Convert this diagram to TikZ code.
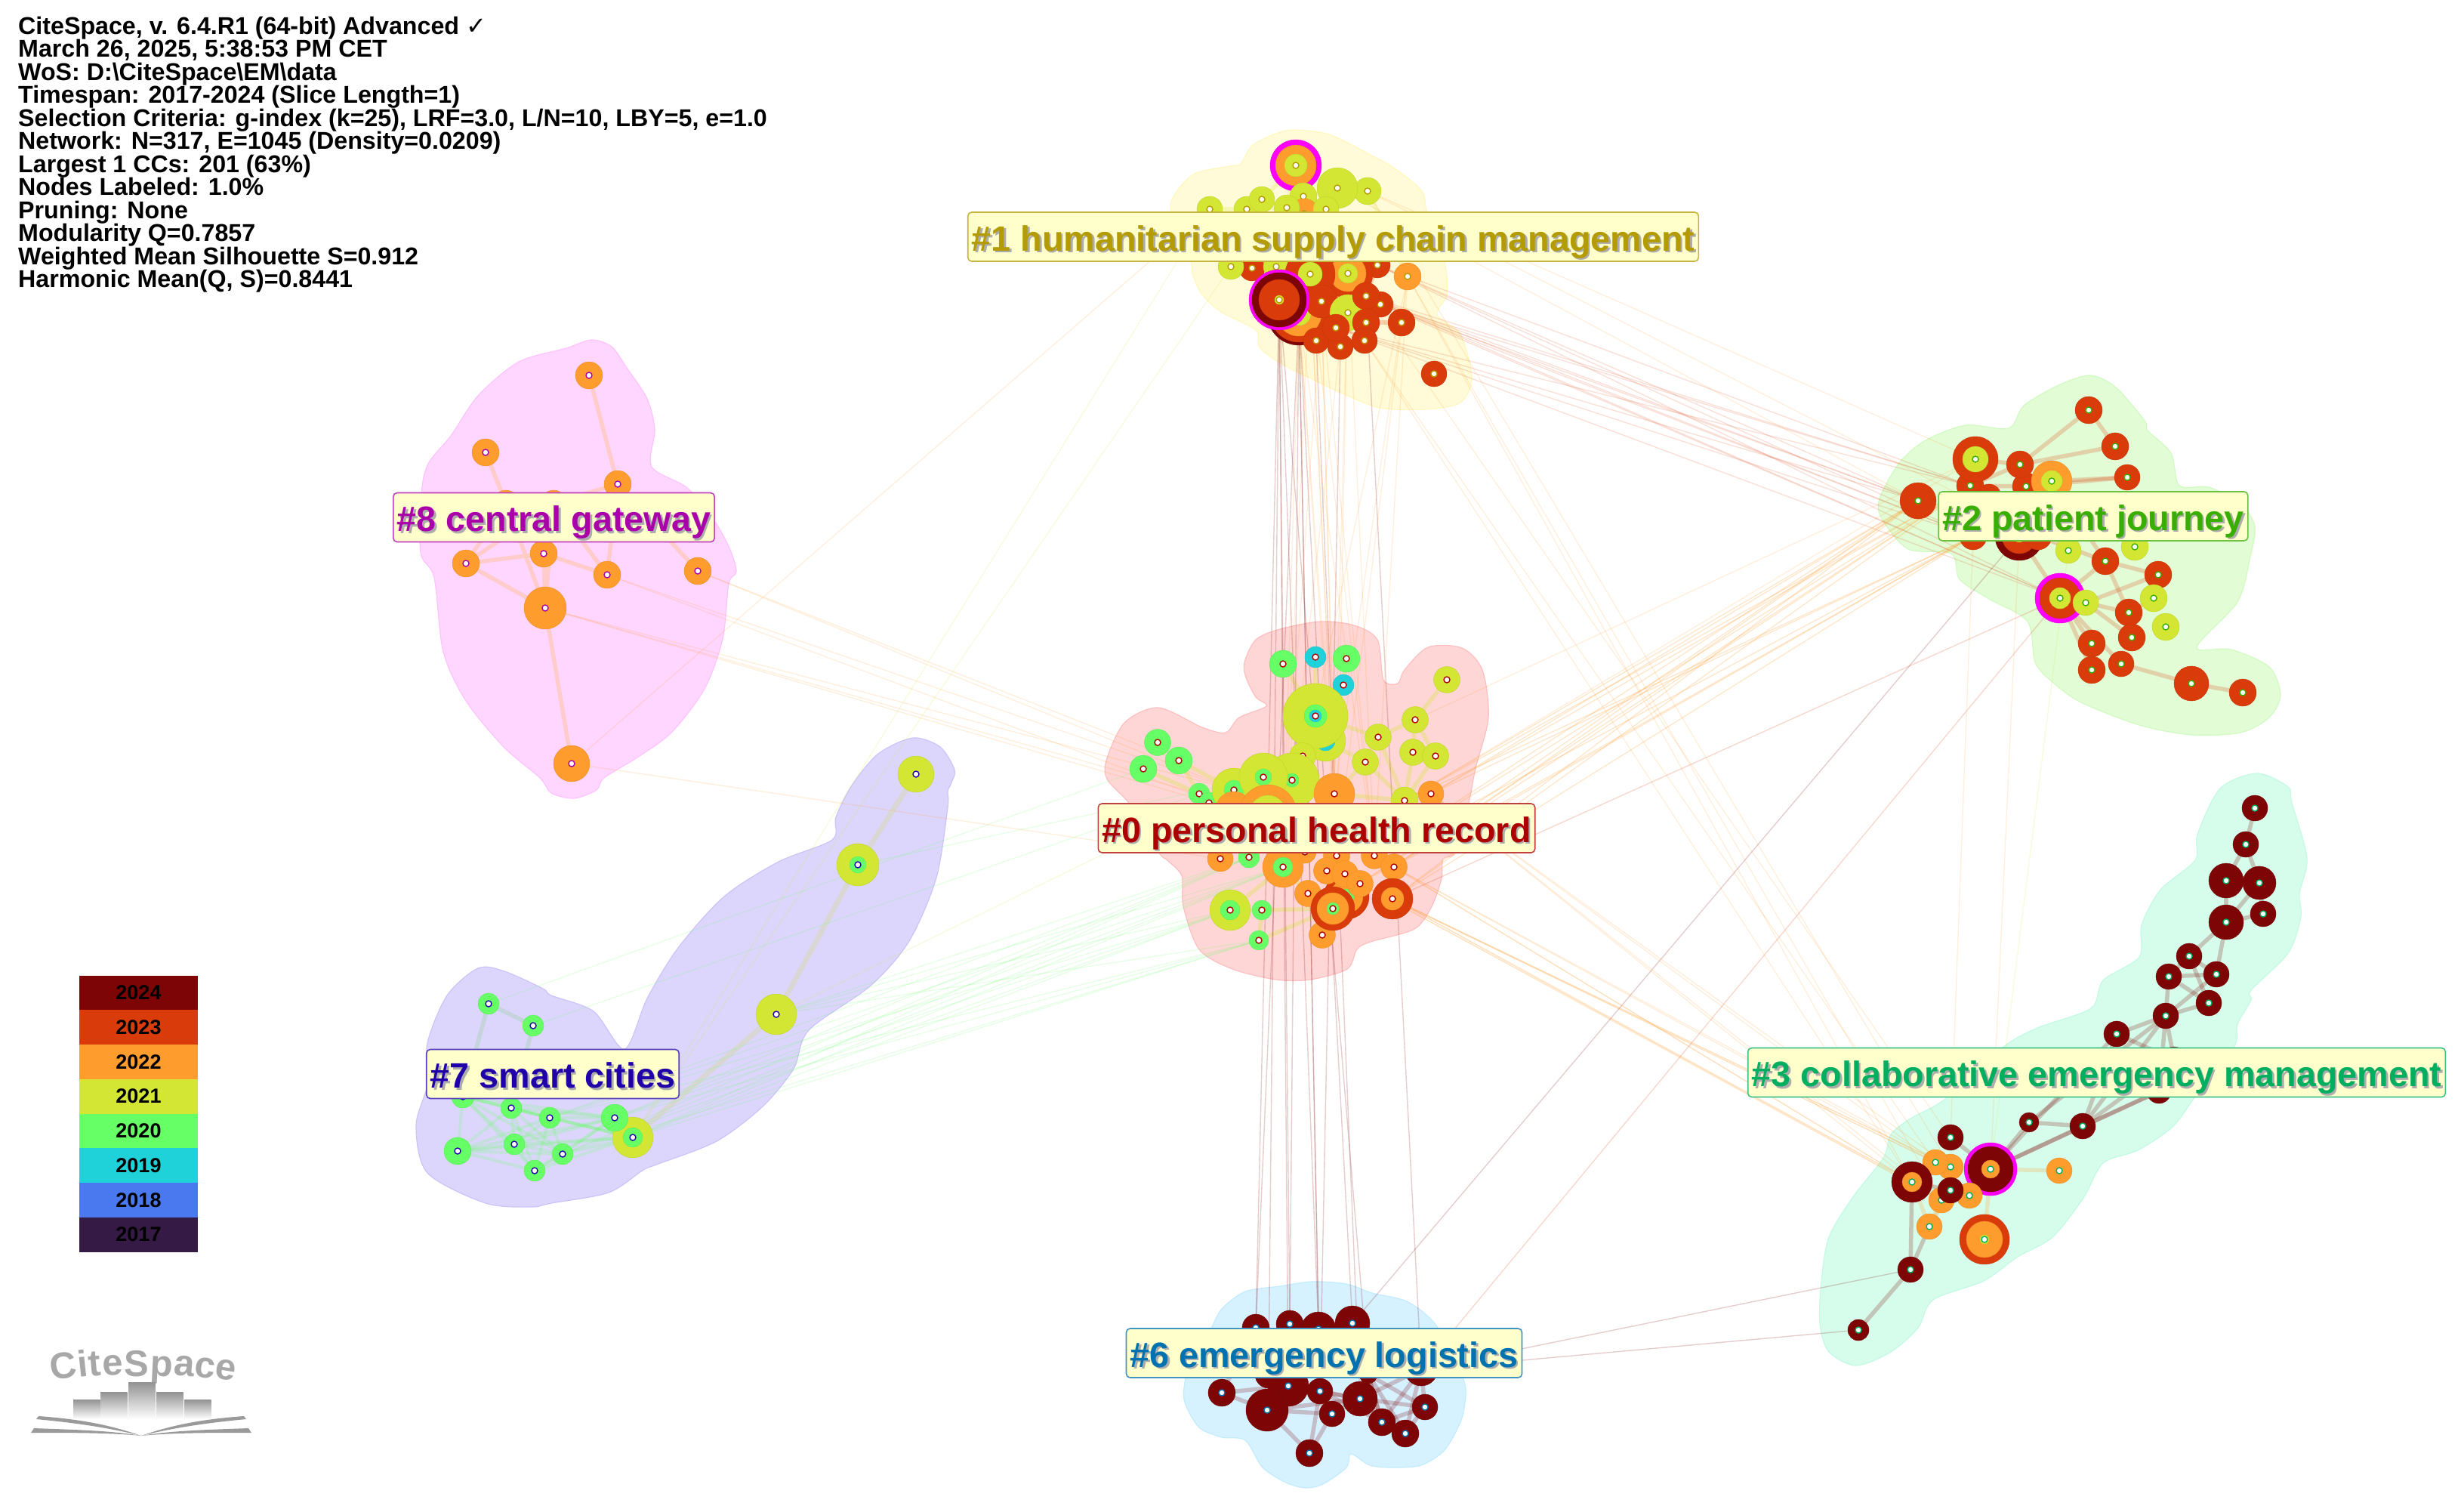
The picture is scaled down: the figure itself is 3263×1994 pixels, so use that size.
\documentclass[tikz,border=0pt]{standalone}
\usepackage{fontspec}
\setmainfont{Liberation Sans}
\newfontfamily\checkfont{DejaVu Sans}
\usetikzlibrary{positioning}
% --- year colours of the rings ---
\definecolor{yr24}{HTML}{7D0505}
\definecolor{yr23}{HTML}{D93C0A}
\definecolor{yr22}{HTML}{FF9C2E}
\definecolor{yr21}{HTML}{D2E633}
\definecolor{yr20}{HTML}{66FF66}
\definecolor{yr19}{HTML}{1FD2D9}
\definecolor{yr18}{HTML}{4A78EE}
\definecolor{yr17}{HTML}{341A44}
\definecolor{halo}{HTML}{FF00FF}
% --- cluster colours ---
\definecolor{clrPR}{HTML}{AD0000}
\definecolor{clrHS}{HTML}{B39B00}
\definecolor{clrPJ}{HTML}{38AE00}
\definecolor{clrCE}{HTML}{00AE60}
\definecolor{clrEL}{HTML}{0072B0}
\definecolor{clrSC}{HTML}{2000A8}
\definecolor{clrCG}{HTML}{AA00AA}
\definecolor{boxfill}{HTML}{FFFFCC}
\definecolor{bookgray}{HTML}{9A9A9A}
\definecolor{cglink}{HTML}{FFCBC2}
\definecolor{sclink}{HTML}{D8D8D2}
\pgfdeclarelayer{hulls}
\pgfdeclarelayer{links}
\pgfsetlayers{hulls,links,main}
\tikzset{
	treering/.style={fill=#1, draw=#1!92!black, line width=.4pt},
	dotnode/.style={circle, inner sep=0pt, minimum size=8pt, fill=white, line width=1.4pt},
	inlink/.style={line width=5.5pt, draw=#1, opacity=.22},
	crosslink/.style={line width=1.4pt, draw=#1, opacity=.16},
	clusterbox/.style={rectangle, rounded corners=5pt, fill=boxfill, line width=1.6pt, inner xsep=5pt, inner ysep=0pt,
		text height=51pt, text depth=14pt, font=\fontsize{46.7}{50}\selectfont\bfseries},
	yearband/.style={rectangle, inner sep=0pt, minimum width=157pt, minimum height=45.75pt, text=black,
		font=\fontsize{27}{27}\selectfont\bfseries},
}
% one citation tree: rings from the outside in, then the white dot
\newcommand{\citenode}[5]{%
	\foreach \rc/\rr in {#4} {\filldraw[treering=\rc] (#2,#3) circle[radius=\rr];}
	\node[dotnode, draw=#5] (#1) at (#2,#3) {};}
\newcommand{\shadowed}[1]{\makebox[0pt][l]{\kern2.5pt\raisebox{-2.5pt}{\textcolor{gray!65}{#1}}}#1}
\newcommand{\clusterlabel}[5]{\node[clusterbox, draw=#4!75, text=#4] (#1) at (#2,#3) {\shadowed{#5}};}
\begin{document}
\begin{tikzpicture}[x=1pt, y=-1pt]
	\useasboundingbox (0,0) rectangle (3263,1994);
	% --- hulls of the clusters ---
	\begin{pgfonlayer}{hulls}
		\filldraw[fill=red!16, draw=red!25, line width=1.2pt] plot[smooth cycle] coordinates {(1648,877) (1663,847) (1695,833) (1748,823) (1793,828) (1824,847) (1832,900) (1851,905) (1860,887) (1891,857) (1936,858) (1963,887) (1971,950) (1954,1017) (1945,1063) (1927,1128) (1911,1137) (1909,1163) (1896,1200) (1873,1230) (1815,1247) (1797,1257) (1784,1283) (1735,1297) (1690,1297) (1632,1283) (1588,1257) (1567,1200) (1565,1160) (1547,1140) (1534,1128) (1498,1067) (1467,1033) (1465,1007) (1489,957) (1534,937) (1592,963) (1623,970) (1641,950) (1677,935) (1663,923) (1650,897)};
		\filldraw[fill={rgb,255:red,255;green,251;blue,217}, draw={rgb,255:red,255;green,247;blue,190}, line width=1.2pt] plot[smooth cycle] coordinates {(1551,283) (1556,257) (1582,230) (1628,220) (1643,217) (1658,193) (1689,177) (1714,172) (1760,178) (1811,203) (1847,223) (1883,253) (1890,283) (1913,347) (1916,390) (1903,417) (1934,443) (1949,500) (1934,533) (1888,542) (1827,540) (1776,520) (1740,503) (1699,483) (1668,460) (1663,437) (1617,413) (1592,390) (1579,363) (1577,347)};
		\filldraw[fill={rgb,255:red,226;green,252;blue,214}, draw={rgb,255:red,210;green,250;blue,195}, line width=1.2pt] plot[smooth cycle] coordinates {(2489,660) (2515,613) (2550,583) (2603,563) (2660,567) (2680,537) (2726,510) (2768,497) (2802,513) (2840,557) (2844,570) (2875,600) (2886,643) (2925,645) (2967,667) (2986,697) (2980,737) (2963,797) (2909,857) (2955,860) (3005,883) (3020,920) (3005,950) (2967,970) (2902,973) (2833,960) (2756,930) (2718,903) (2695,877) (2685,823) (2634,793) (2595,767) (2584,733) (2527,727) (2492,687)};
		\filldraw[fill={rgb,255:red,214;green,253;blue,235}, draw={rgb,255:red,195;green,250;blue,228}, line width=1.2pt] plot[smooth cycle] coordinates {(2989,1024) (3030,1042) (3035,1063) (3055,1136) (3045,1183) (3047,1214) (3030,1262) (2981,1311) (2981,1324) (2963,1356) (2958,1387) (2907,1452) (2877,1492) (2831,1523) (2785,1540) (2759,1586) (2718,1638) (2672,1664) (2627,1696) (2560,1721) (2540,1758) (2504,1790) (2458,1808) (2422,1790) (2410,1753) (2412,1696) (2422,1638) (2453,1586) (2494,1533) (2504,1502) (2530,1481) (2576,1455) (2652,1387) (2698,1361) (2769,1335) (2785,1298) (2833,1267) (2836,1225) (2861,1178) (2907,1139) (2910,1105) (2940,1044)};
		\filldraw[fill={rgb,255:red,214;green,241;blue,255}, draw={rgb,255:red,195;green,236;blue,255}, line width=1.2pt] plot[smooth cycle] coordinates {(1603,1760) (1618,1733) (1649,1710) (1695,1703) (1737,1697) (1783,1700) (1817,1712) (1863,1723) (1898,1750) (1925,1793) (1940,1833) (1940,1857) (1934,1883) (1913,1920) (1882,1940) (1844,1943) (1814,1940) (1789,1925) (1783,1943) (1752,1965) (1729,1970) (1703,1963) (1672,1943) (1649,1907) (1618,1903) (1588,1890) (1569,1857) (1569,1830) (1580,1793)};
		\filldraw[fill={rgb,255:red,221;green,214;blue,252}, draw={rgb,255:red,205;green,195;blue,250}, line width=1.2pt] plot[smooth cycle] coordinates {(1102,1112) (1107,1082) (1128,1040) (1163,998) (1209,977) (1245,989) (1264,1019) (1260,1036) (1255,1048) (1255,1069) (1240,1162) (1204,1246) (1153,1305) (1071,1364) (1051,1415) (1010,1465) (949,1511) (872,1541) (852,1549) (806,1579) (730,1593) (704,1598) (643,1593) (566,1553) (551,1490) (566,1436) (566,1381) (592,1318) (633,1282) (668,1286) (719,1309) (730,1318) (786,1339) (827,1389) (857,1322) (898,1255) (959,1187) (1031,1141)};
		\filldraw[fill={rgb,255:red,255;green,214;blue,255}, draw={rgb,255:red,255;green,195;blue,255}, line width=1.2pt] plot[smooth cycle] coordinates {(558,654) (567,614) (597,577) (633,524) (687,479) (750,461) (783,450) (810,459) (830,487) (857,528) (867,569) (863,618) (910,646) (947,691) (967,728) (975,757) (965,773) (957,846) (933,912) (890,969) (847,1001) (800,1030) (790,1046) (760,1057) (730,1050) (715,1030) (667,989) (617,928) (587,863) (575,765) (557,732)};
	\end{pgfonlayer}
	% --- #8 central gateway ---
	\foreach \px/\py/\rad [count=\i] in {780/497/18, 643/599/18, 818/641/18, 670/666/17, 733/666/17, 617/746/18, 720/733/18, 804/761/18, 924/756/18, 722/805/28, 757/1011/24}
		{\citenode{cg\i}{\px}{\py}{yr22/\rad}{clrCG}}
	% --- #7 smart cities ---
	\foreach \px/\py/\rad [count=\i from 4] in {647/1329/14, 706/1358/14, 613/1452/15, 677/1467/14, 728/1480/14}
		{\citenode{sc\i}{\px}{\py}{yr20/\rad}{clrSC}}
	\citenode{sc1}{1213}{1025}{yr21/24}{clrSC}
	\citenode{sc2}{1136}{1145}{yr21/28,yr20/11}{clrSC}
	\citenode{sc3}{1028}{1343}{yr21/27}{clrSC}
	\citenode{sc10}{838}{1506}{yr21/27,yr20/13}{clrSC}
	\citenode{sc9}{814}{1480}{yr20/18}{clrSC}
	\citenode{sc11}{606}{1524}{yr20/18}{clrSC}
	\citenode{sc12}{681}{1515}{yr20/14}{clrSC}
	\citenode{sc13}{745}{1528}{yr20/14}{clrSC}
	\citenode{sc14}{708}{1550}{yr20/14}{clrSC}
	% --- #6 emergency logistics ---
	\foreach \px/\py/\rad [count=\i] in {1791/1752/23, 1746/1760/23, 1708/1753/18, 1663/1758/18, 1680/1820/18, 1812/1820/12, 1882/1813/22, 1618/1844/18, 1706/1835/27, 1748/1842/17, 1678/1867/28, 1764/1872/17, 1801/1852/23, 1830/1883/18, 1861/1898/18, 1887/1863/17, 1734/1924/18}
		{\citenode{el\i}{\px}{\py}{yr24/\rad}{clrEL}}
	% --- #3 collaborative emergency management ---
	\foreach \px/\py/\rad [count=\i] in {2986/1070/17, 2974/1118/17, 2948/1166/23, 2992/1169/22, 2997/1210/17, 2948/1221/23, 2899/1266/17, 2872/1293/17, 2935/1290/17, 2925/1328/17, 2868/1345/17, 2803/1369/17, 2879/1403/17, 2859/1445/16, 2758/1491/17, 2687/1486/13, 2583/1506/17}
		{\citenode{ce\i}{\px}{\py}{yr24/\rad}{clrCE}}
	\citenode{ce18}{2636}{1548}{halo/35,yr24/30,yr22/12}{clrCE}
	\citenode{ce19}{2727}{1550}{yr22/17}{clrCE}
	\citenode{ce21}{2583}{1545}{yr22/17}{clrCE}
	\citenode{ce22}{2563}{1539}{yr22/17}{clrCE}
	\citenode{ce20}{2532}{1565}{yr24/27,yr22/13}{clrCE}
	\citenode{ce24}{2571}{1589}{yr22/17}{clrCE}
	\citenode{ce25}{2608}{1583}{yr22/17}{clrCE}
	\citenode{ce23}{2583}{1576}{yr24/17}{clrCE}
	\citenode{ce26}{2555}{1624}{yr22/17}{clrCE}
	\citenode{ce27}{2628}{1641}{yr23/33,yr22/24,yr21/6}{clrCE}
	\citenode{ce28}{2530}{1681}{yr24/17}{clrCE}
	\citenode{ce29}{2461}{1761}{yr24/14}{clrCE}
	% --- #2 patient journey ---
	\foreach \px/\py/\rad [count=\i] in {2766/543/18, 2801/591/18, 2817/632/17, 2540/663/24, 2609/643/18, 2634/657/16, 2613/710/18, 2683/644/18}
		{\citenode{pj\i}{\px}{\py}{yr23/\rad}{clrPJ}}
	\citenode{pj9}{2616}{608}{yr23/30,yr21/17}{clrPJ}
	\citenode{pj10}{2675}{615}{yr23/18}{clrPJ}
	\citenode{pj11}{2717}{637}{yr22/27,yr21/14}{clrPJ}
	\citenode{pj12}{2674}{710}{yr24/32,yr23/23,yr21/8}{clrPJ}
	\citenode{pj13}{2699}{710}{yr23/18}{clrPJ}
	\citenode{pj14}{2739}{729}{yr21/17}{clrPJ}
	\citenode{pj15}{2827}{724}{yr21/18}{clrPJ}
	\citenode{pj16}{2788}{743}{yr23/18}{clrPJ}
	\citenode{pj17}{2858}{761}{yr23/18}{clrPJ}
	\citenode{pj18}{2852}{792}{yr21/18}{clrPJ}
	\citenode{pj19}{2728}{792}{halo/33,yr23/27,yr21/14}{clrPJ}
	\citenode{pj20}{2762}{798}{yr21/17}{clrPJ}
	\citenode{pj21}{2819}{811}{yr23/18}{clrPJ}
	\citenode{pj22}{2868}{830}{yr21/18}{clrPJ}
	\foreach \px/\py/\rad [count=\i from 23] in {2823/844/18, 2770/852/18, 2770/887/18, 2809/879/17, 2902/905/23, 2970/917/18}
		{\citenode{pj\i}{\px}{\py}{yr23/\rad}{clrPJ}}
	% --- #1 humanitarian supply chain management ---
	\citenode{hs1}{1716}{219}{halo/34,yr22/27,yr21/15}{clrHS}
	\citenode{hs3}{1811}{253}{yr21/18}{clrHS}
	\citenode{hs2}{1771}{249}{yr21/27}{clrHS}
	\citenode{hs4}{1726}{260}{yr21/18}{clrHS}
	\citenode{hs12}{1727}{283}{yr22/20}{clrHS}
	\citenode{hs6}{1756}{277}{yr21/17}{clrHS}
	\citenode{hs7}{1651}{277}{yr21/17}{clrHS}
	\citenode{hs5}{1671}{264}{yr21/17}{clrHS}
	\citenode{hs8}{1704}{275}{yr21/17}{clrHS}
	\citenode{hs9}{1602}{277}{yr21/17}{clrHS}
	\citenode{hs11}{1658}{355}{yr23/17}{clrHS}
	\citenode{hs10}{1630}{353}{yr21/17}{clrHS}
	\citenode{hs13}{1690}{353}{yr21/17}{clrHS}
	\citenode{hs14}{1824}{351}{yr23/17}{clrHS}
	\citenode{hs15}{1864}{366}{yr22/18}{clrHS}
	\citenode{hs18}{1720}{415}{yr24/42,yr23/38,yr22/30,yr21/16}{clrHS}
	\citenode{hs17}{1785}{362}{yr23/33,yr22/24,yr21/13}{clrHS}
	\citenode{hs16}{1735}{363}{yr23/33,yr21/16}{clrHS}
	\citenode{hs19}{1750}{399}{yr23/22}{clrHS}
	\citenode{hs20}{1785}{414}{yr21/24}{clrHS}
	\citenode{hs21}{1694}{397}{halo/40,yr24/36,yr23/27,yr21/6}{clrHS}
	\foreach \px/\py/\rad [count=\i from 23] in {1828/403/17, 1809/392/18, 1856/427/18, 1809/427/18, 1775/459/17, 1743/451/17, 1769/434/18, 1807/451/17, 1899/495/17}
		{\citenode{hs\i}{\px}{\py}{yr23/\rad}{clrHS}}
	% --- #0 personal health record ---
	\citenode{pr1}{1699}{879}{yr20/18}{clrPR}
	\citenode{pr2}{1742}{870}{yr19/14}{clrPR}
	\citenode{pr3}{1783}{872}{yr20/18}{clrPR}
	\citenode{pr4}{1779}{907}{yr19/14}{clrPR}
	\citenode{pr5}{1755}{981}{yr21/27,yr19/13}{clrPR}
	\citenode{pr6}{1742}{948}{yr21/43,yr20/15,yr19/8}{clrPR}
	\foreach \px/\py [count=\i from 7] in {1916/900, 1874/953, 1825/976, 1808/1009, 1871/996, 1901/1001, 1725/1001}
		{\citenode{pr\i}{\px}{\py}{yr21/17.5}{clrPR}}
	\foreach \px/\py/\rad [count=\i from 14] in {1533/983/17.5, 1561/1007/18, 1514/1018/18, 1588/1051/14, 1601/1063/14}
		{\citenode{pr\i}{\px}{\py}{yr20/\rad}{clrPR}}
	\citenode{pr20}{1711}{1033}{yr21/36,yr20/9}{clrPR}
	\citenode{pr19}{1634}{1046}{yr21/29,yr20/13}{clrPR}
	\citenode{pr21}{1673}{1029}{yr21/32,yr20/11}{clrPR}
	\citenode{pr22}{1634}{1072}{yr22/24}{clrPR}
	\citenode{pr23}{1679}{1077}{yr22/38,yr21/24,yr20/10}{clrPR}
	\citenode{pr24}{1767}{1051}{yr22/27}{clrPR}
	\citenode{pr25}{1860}{1060}{yr21/18}{clrPR}
	\citenode{pr26}{1895}{1051}{yr22/17}{clrPR}
	\citenode{pr27}{1616}{1137}{yr22/17}{clrPR}
	\citenode{pr28}{1654}{1135}{yr20/14}{clrPR}
	\citenode{pr29}{1728}{1128}{yr22/15}{clrPR}
	\citenode{pr30}{1699}{1148}{yr22/27,yr20/13}{clrPR}
	\citenode{pr38}{1783}{1187}{yr23/30,yr22/22,yr20/10}{clrPR}
	\foreach \px/\py [count=\i from 31] in {1770/1133, 1820/1133, 1846/1148, 1757/1153, 1781/1157, 1801/1170, 1732/1183}
		{\citenode{pr\i}{\px}{\py}{yr22/17.5}{clrPR}}
	\citenode{pr44}{1751}{1238}{yr22/17.5}{clrPR}
	\citenode{pr39}{1765}{1203}{yr23/29,yr22/21,yr20/8}{clrPR}
	\citenode{pr40}{1844}{1190}{yr23/27,yr22/15}{clrPR}
	\citenode{pr41}{1629}{1205}{yr21/27,yr20/13}{clrPR}
	\citenode{pr42}{1671}{1205}{yr20/13}{clrPR}
	\citenode{pr43}{1667}{1245}{yr20/13}{clrPR}
	% --- links inside and between clusters ---
	\begin{pgfonlayer}{links}
		\foreach \a/\b in {pr1/pr6, pr2/pr6, pr3/pr4, pr4/pr6, pr7/pr8, pr8/pr9, pr8/pr11, pr8/pr12, pr11/pr25, pr12/pr25, pr9/pr10, pr9/pr25, pr10/pr25, pr10/pr24, pr6/pr9, pr5/pr10, pr24/pr25, pr15/pr17, pr16/pr17, pr15/pr19, pr30/pr37, pr41/pr30, pr42/pr39, pr43/pr39, pr43/pr42, pr41/pr42}
			{\draw[inlink=yr21, opacity=.3] (\a) -- (\b);}
		\foreach \a/\b in {hs1/hs4, hs1/hs5, hs1/hs8, hs4/hs2, hs5/hs8, hs3/hs6, hs2/hs6, hs9/hs7, hs7/hs8, hs3/hs15}
			{\draw[inlink=yr21] (\a) -- (\b);}
		\foreach \a/\b in {hs24/hs30, hs24/hs29, hs14/hs24, hs23/hs24, hs25/hs26}
			{\draw[inlink=yr23] (\a) -- (\b);}
		\foreach \a/\b in {pj1/pj2, pj1/pj10, pj10/pj2, pj9/pj10, pj10/pj5, pj5/pj8, pj5/pj6, pj8/pj3, pj11/pj3, pj12/pj19, pj16/pj17, pj16/pj21, pj20/pj17, pj16/pj19, pj17/pj18, pj20/pj21, pj20/pj23, pj21/pj18, pj19/pj24, pj19/pj25, pj19/pj26, pj24/pj25, pj26/pj27, pj27/pj28, pj13/pj16, pj11/pj16, pj9/pj5}
			{\draw[inlink=yr23] (\a) -- (\b);}
		\foreach \a/\b in {ce1/ce2, ce2/ce3, ce2/ce4, ce3/ce6, ce3/ce4, ce4/ce6, ce4/ce5, ce6/ce5, ce6/ce7, ce6/ce9, ce7/ce8, ce7/ce9, ce7/ce10, ce8/ce9, ce8/ce10, ce8/ce11, ce9/ce11, ce10/ce11, ce11/ce12, ce11/ce13, ce11/ce14, ce12/ce15, ce12/ce18, ce12/ce13, ce11/ce15, ce13/ce15, ce14/ce15, ce15/ce16, ce16/ce18, ce16/ce11, ce15/ce18, ce14/ce18, ce17/ce18, ce20/ce28, ce28/ce29, ce28/ce26, ce20/ce23}
			{\draw[inlink=yr24] (\a) -- (\b);}
		\foreach \a/\b in {ce18/ce19, ce18/ce27, ce23/ce26, ce24/ce26, ce20/ce26, ce21/ce24}
			{\draw[inlink=yr22] (\a) -- (\b);}
		\foreach \a/\b in {el8/el11, el8/el9, el11/el17, el11/el12, el11/el13, el10/el17, el12/el17, el9/el13, el12/el13, el13/el14, el13/el16, el13/el15, el14/el16, el14/el15, el15/el16, el7/el15, el7/el14, el7/el16, el7/el13, el1/el14, el6/el14, el6/el15, el4/el8, el10/el15, el10/el13, el5/el9, el6/el16}
			{\draw[inlink=yr24] (\a) -- (\b);}
		\foreach \a/\b in {sc1/sc2, sc2/sc3, sc3/sc10}
			{\draw[inlink=sclink, opacity=.9, line width=7pt] (\a) -- (\b);}
		\foreach \a/\b in {sc4/sc5, sc4/sc6, sc5/sc7}
			{\draw[inlink=yr20!60!gray] (\a) -- (\b);}
		% mesh of the lower group
		\foreach \a in {6,...,13} {
			\pgfmathtruncatemacro{\first}{\a+1}
			\foreach \b in {\first,...,14}
				{\draw[inlink=yr20, line width=4pt, opacity=.2] (sc\a) -- (sc\b);}
		}
		\foreach \a/\b in {cg1/cg3, cg2/cg4, cg3/cg5, cg4/cg6, cg4/cg10, cg5/cg10, cg6/cg7, cg6/cg10, cg7/cg10, cg7/cg8, cg3/cg8, cg5/cg8, cg10/cg11, cg3/cg9, cg5/cg6}
			{\draw[inlink=cglink, opacity=.85] (\a) -- (\b);}
		% vertical bundle down to cluster 6
		\foreach \a/\b in {hs21/el4, hs21/el3, hs21/el5, hs21/el9, hs21/el2, hs18/el10, hs18/el1, hs18/el4, hs21/el6, hs18/el3, hs18/el2, hs24/el7, hs27/el10, hs28/el13}
			{\draw[crosslink=yr24, opacity=.2] (\a) -- (\b);}
		\foreach \a in {hs18,hs16,hs17,hs15,hs19} \foreach \b in {pr30,pr24,pr31,pr32}
			{\draw[crosslink=yr22] (\a) -- (\b);}
		\foreach \a in {hs14,hs23,hs24,hs29} \foreach \b in {pj4,pj5,pj7,pj19}
			{\draw[crosslink=yr23] (\a) -- (\b);}
		\foreach \a/\b in {hs3/pj9, hs3/pj14, hs2/pj4, pr8/pj9, pr25/pj9, hs3/ce21, hs15/ce20, hs30/ce20, hs30/ce22, hs15/ce24, hs24/ce17}
			{\draw[crosslink=yr22] (\a) -- (\b);}
		\foreach \a in {pr33,pr32,pr36,pr40,pr26,pr25} \foreach \b in {pj7,pj4,pj5}
			{\draw[crosslink=yr22, opacity=.24] (\a) -- (\b);}
		\foreach \a in {pr33,pr36,pr40,pr26} \foreach \b in {ce20,ce22,ce21,ce24}
			{\draw[crosslink=yr22, opacity=.17] (\a) -- (\b);}
		\draw[crosslink=yr23, opacity=.2] (pr40) -- (pj19);
		\draw[crosslink=yr24, opacity=.2] (pj12) -- (el1);
		\draw[crosslink=yr23, opacity=.2] (pj19) -- (el7);
		\draw[crosslink=yr24, opacity=.2] (ce28) -- (el7);
		\draw[crosslink=yr24, opacity=.2] (ce29) -- (el7);
		\draw[crosslink=yr22] (pj7) -- (ce17);
		\draw[crosslink=yr22] (pj12) -- (ce18);
		\draw[crosslink=yr21] (pj14) -- (ce18);
		% left side
		\foreach \a/\b in {cg9/pr15, cg9/pr19, cg8/pr19, cg8/pr22, cg10/pr19, cg10/pr22, cg10/pr23, cg11/pr27, cg11/hs9}
			{\draw[crosslink=yr22] (\a) -- (\b);}
		\foreach \a in {sc3,sc9,sc10,sc8,sc13} \foreach \b in {pr28,pr41,pr43,pr30}
			{\draw[crosslink=yr20] (\a) -- (\b);}
		\foreach \a/\b in {sc4/pr16, sc5/pr17, sc2/pr21}
			{\draw[crosslink=yr20] (\a) -- (\b);}
		\foreach \a/\b in {sc10/hs9, sc10/hs10, sc3/pr19}
			{\draw[crosslink=yr21] (\a) -- (\b);}
	\end{pgfonlayer}
	% --- cluster labels ---
	\clusterlabel{labelPR}{1743.5}{1096.5}{clrPR}{\#0 personal health record}
	\clusterlabel{labelHS}{1765.5}{313.5}{clrHS}{\#1 humanitarian supply chain management}
	\clusterlabel{labelPJ}{2772}{683.5}{clrPJ}{\#2 patient journey}
	\clusterlabel{labelCE}{2776.5}{1420}{clrCE}{\#3 collaborative emergency management}
	\clusterlabel{labelEL}{1753.5}{1791.5}{clrEL}{\#6 emergency logistics}
	\clusterlabel{labelSC}{732}{1422}{clrSC}{\#7 smart cities}
	\clusterlabel{labelCG}{733.5}{685}{clrCG}{\#8 central gateway}
	% --- run information, top left ---
	\node[anchor=north west, inner sep=0pt, align=left, font=\bfseries\fontsize{32.2}{30.45}\selectfont] (infoText) at (24,22) {%
		CiteSpace, v. 6.4.R1 (64-bit) Advanced {\checkfont ✓}\\
		March 26, 2025, 5:38:53 PM CET\\
		WoS: D:\textbackslash CiteSpace\textbackslash EM\textbackslash data\\
		Timespan: 2017-2024 (Slice Length=1)\\
		Selection Criteria: g-index (k=25), LRF=3.0, L/N=10, LBY=5, e=1.0\\
		Network: N=317, E=1045 (Density=0.0209)\\
		Largest 1 CCs: 201 (63\%)\\
		Nodes Labeled: 1.0\%\\
		Pruning: None\\
		Modularity Q=0.7857\\
		Weighted Mean Silhouette S=0.912\\
		Harmonic Mean(Q, S)=0.8441};
	% --- year legend ---
	\foreach \yr [count=\i from 0] in {24,23,22,21,20,19,18,17} {
		\pgfmathsetmacro{\bandy}{1314.4+45.75*\i}
		\node[yearband, fill=yr\yr] (band\yr) at (183.5,\bandy) {20\yr};
	}
	% --- logo ---
	\foreach \ch/\px/\py/\rot [count=\i] in {C/86/1825/8, i/111/1823/6, t/127/1822/5, e/150/1821/3, S/181/1822/0, p/213/1822/-3, a/243/1822/-5, c/270/1824/-7, e/297/1827/-9}
		{\node[anchor=base, inner sep=0pt, rotate=\rot, text={rgb,255:red,168;green,168;blue,168}, font=\fontsize{49}{49}\selectfont\bfseries] (logo\i) at (\px,\py) {\ch};}
	\foreach \bx/\by [count=\i] in {97/1853, 133/1843, 170/1830, 207/1843, 244/1853}
		{\shade[top color=gray!85, bottom color=white] (\bx,\by) rectangle (\bx+35.5,1879);}
	\foreach \mirror in {1,-1} {
		\begin{scope}[shift={(187,0)}, xscale=\mirror]
			\fill[bookgray] (-139,1879) -- (-136,1875) .. controls (-80,1879) and (-40,1887) .. (0,1901) .. controls (-40,1891) and (-85,1884) .. (-139,1879) -- cycle;
			\fill[bookgray] (-146,1897) -- (-142,1891) .. controls (-90,1893) and (-40,1894) .. (0,1901) .. controls (-40,1897) and (-90,1897) .. (-146,1897) -- cycle;
		\end{scope}
	}
\end{tikzpicture}
\end{document}
